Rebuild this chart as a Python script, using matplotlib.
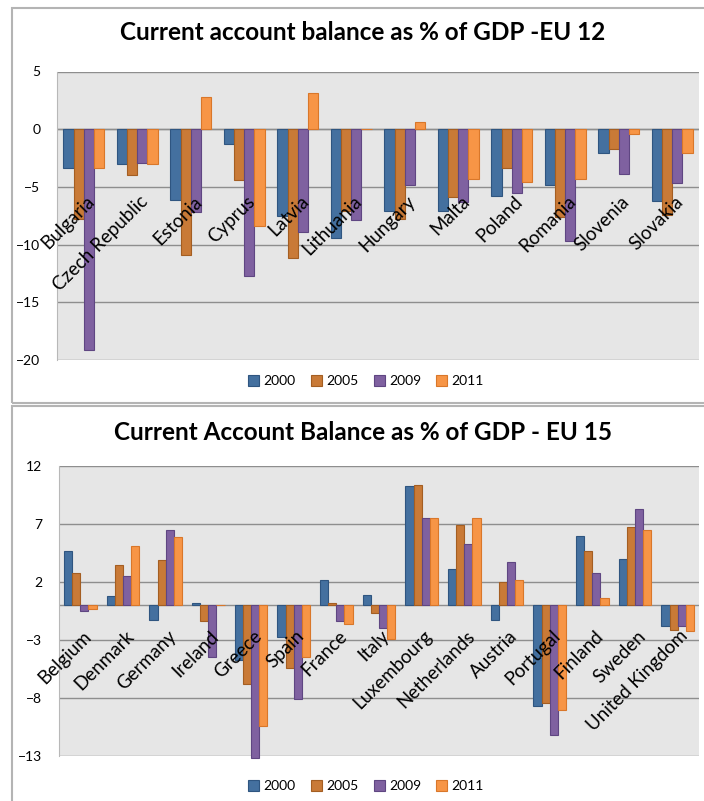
import matplotlib.pyplot as plt
from matplotlib.patches import Rectangle

plt.rcParams['font.family'] = ['Lato', 'DejaVu Sans']

years = ['2000', '2005', '2009', '2011']
colors = ['#44709f', '#c97a37', '#7f61a0', '#f79546']
edges = ['#2f5580', '#a45e22', '#5f4682', '#d9772a']

# EU 12 members
eu12 = ['Bulgaria', 'Czech Republic', 'Estonia', 'Cyprus', 'Latvia', 'Lithuania',
        'Hungary', 'Malta', 'Poland', 'Romania', 'Slovenia', 'Slovakia']
eu12_2000 = [-3.4, -3.0, -6.1, -1.3, -7.5, -9.4, -7.1, -7.1, -5.8, -4.8, -2.1, -6.2]
eu12_2005 = [-7.8, -4.0, -10.9, -4.4, -11.2, -7.1, -7.8, -5.9, -3.4, -7.6, -1.7, -7.4]
eu12_2009 = [-19.1, -2.9, -7.2, -12.7, -8.9, -7.9, -4.8, -6.3, -5.5, -9.7, -3.9, -4.7]
eu12_2011 = [-3.4, -3.0, 2.8, -8.4, 3.1, 0.0, 0.6, -4.3, -4.6, -4.3, -0.4, -2.1]

# EU 15 members
eu15 = ['Belgium', 'Denmark', 'Germany', 'Ireland', 'Greece', 'Spain', 'France', 'Italy',
        'Luxembourg', 'Netherlands', 'Austria', 'Portugal', 'Finland', 'Sweden',
        'United Kingdom']
eu15_2000 = [4.7, 0.8, -1.3, 0.2, -4.7, -2.7, 2.2, 0.9, 10.3, 3.1, -1.3, -8.7, 6.0, 4.0, -1.8]
eu15_2005 = [2.8, 3.5, 3.9, -1.4, -6.8, -5.4, 0.2, -0.7, 10.4, 6.9, 2.0, -8.4, 4.7, 6.7, -2.1]
eu15_2009 = [-0.5, 2.5, 6.5, -4.5, -13.2, -8.1, -1.4, -2.0, 7.5, 5.3, 3.7, -11.2, 2.8, 8.3, -1.8]
eu15_2011 = [-0.3, 5.1, 5.9, 0.0, -10.4, -4.5, -1.6, -2.9, 7.5, 7.5, 2.2, -9.0, 0.6, 6.5, -2.2]

fig = plt.figure(figsize=(7.04, 8.01), dpi=100)

# chart frames
for y0, h in [(801 - 403, 395), (-10, 801 - 406 + 10)]:
    fig.patches.append(Rectangle((12 / 704, y0 / 801), 1.0, h / 801,
                                 transform=fig.transFigure, fill=False,
                                 edgecolor='#b4b4b4', linewidth=1.5))


def draw_chart(rect, names, series, ticks, label_y, title, title_y, legend_y):
    ax = fig.add_axes(rect)
    ax.set_facecolor('#e6e6e6')
    w = 0.19
    x = range(len(names))
    for j, vals in enumerate(series):
        ax.bar([i + (j - 1.5) * w for i in x], vals, width=w, color=colors[j],
               edgecolor=edges[j], linewidth=0.8, label=years[j], zorder=3,
               clip_on=False)
    ax.set_xlim(-0.5, len(names) - 0.5)
    ax.set_ylim(ticks[0], ticks[-1])
    ax.set_yticks(ticks)
    ax.set_xticks([])
    ax.tick_params(axis='y', length=0, pad=12, labelsize=10)
    for t in ticks:
        ax.axhline(t, color='#8e8e8e', linewidth=1, zorder=1)
    ax.axhline(0, color='#8e8e8e', linewidth=1, zorder=1)
    for s in ax.spines.values():
        s.set_visible(False)
    ax.spines['left'].set_visible(True)
    ax.spines['left'].set_color('#b8b8b8')
    for i, n in enumerate(names):
        ax.text(i + 0.04, label_y, n, rotation=45, rotation_mode='anchor',
                ha='right', va='top', fontsize=13.5, zorder=5)
    fig.text(0.515, title_y, title, ha='center', va='center', fontsize=17.5,
             fontweight='bold')
    fig.legend(*ax.get_legend_handles_labels(), loc='center',
               bbox_to_anchor=(0.52, legend_y), ncol=4, frameon=False,
               fontsize=10, handlelength=0.8, handleheight=0.8,
               handletextpad=0.3, columnspacing=1.1)
    return ax


draw_chart([57 / 704, 1 - 360 / 801, 642 / 704, 288.5 / 801], eu12,
           [eu12_2000, eu12_2005, eu12_2009, eu12_2011], [-20, -15, -10, -5, 0, 5],
           -5.5, 'Current account balance as % of GDP -EU 12', 1 - 33 / 801,
           1 - 381 / 801)

draw_chart([59 / 704, 1 - 756 / 801, 640 / 704, 290 / 801], eu15,
           [eu15_2000, eu15_2005, eu15_2009, eu15_2011], [-13, -8, -3, 2, 7, 12],
           -1.9, 'Current Account Balance as % of GDP - EU 15', 1 - 433 / 801,
           1 - 786 / 801)

fig.savefig('out.png', dpi=100)
